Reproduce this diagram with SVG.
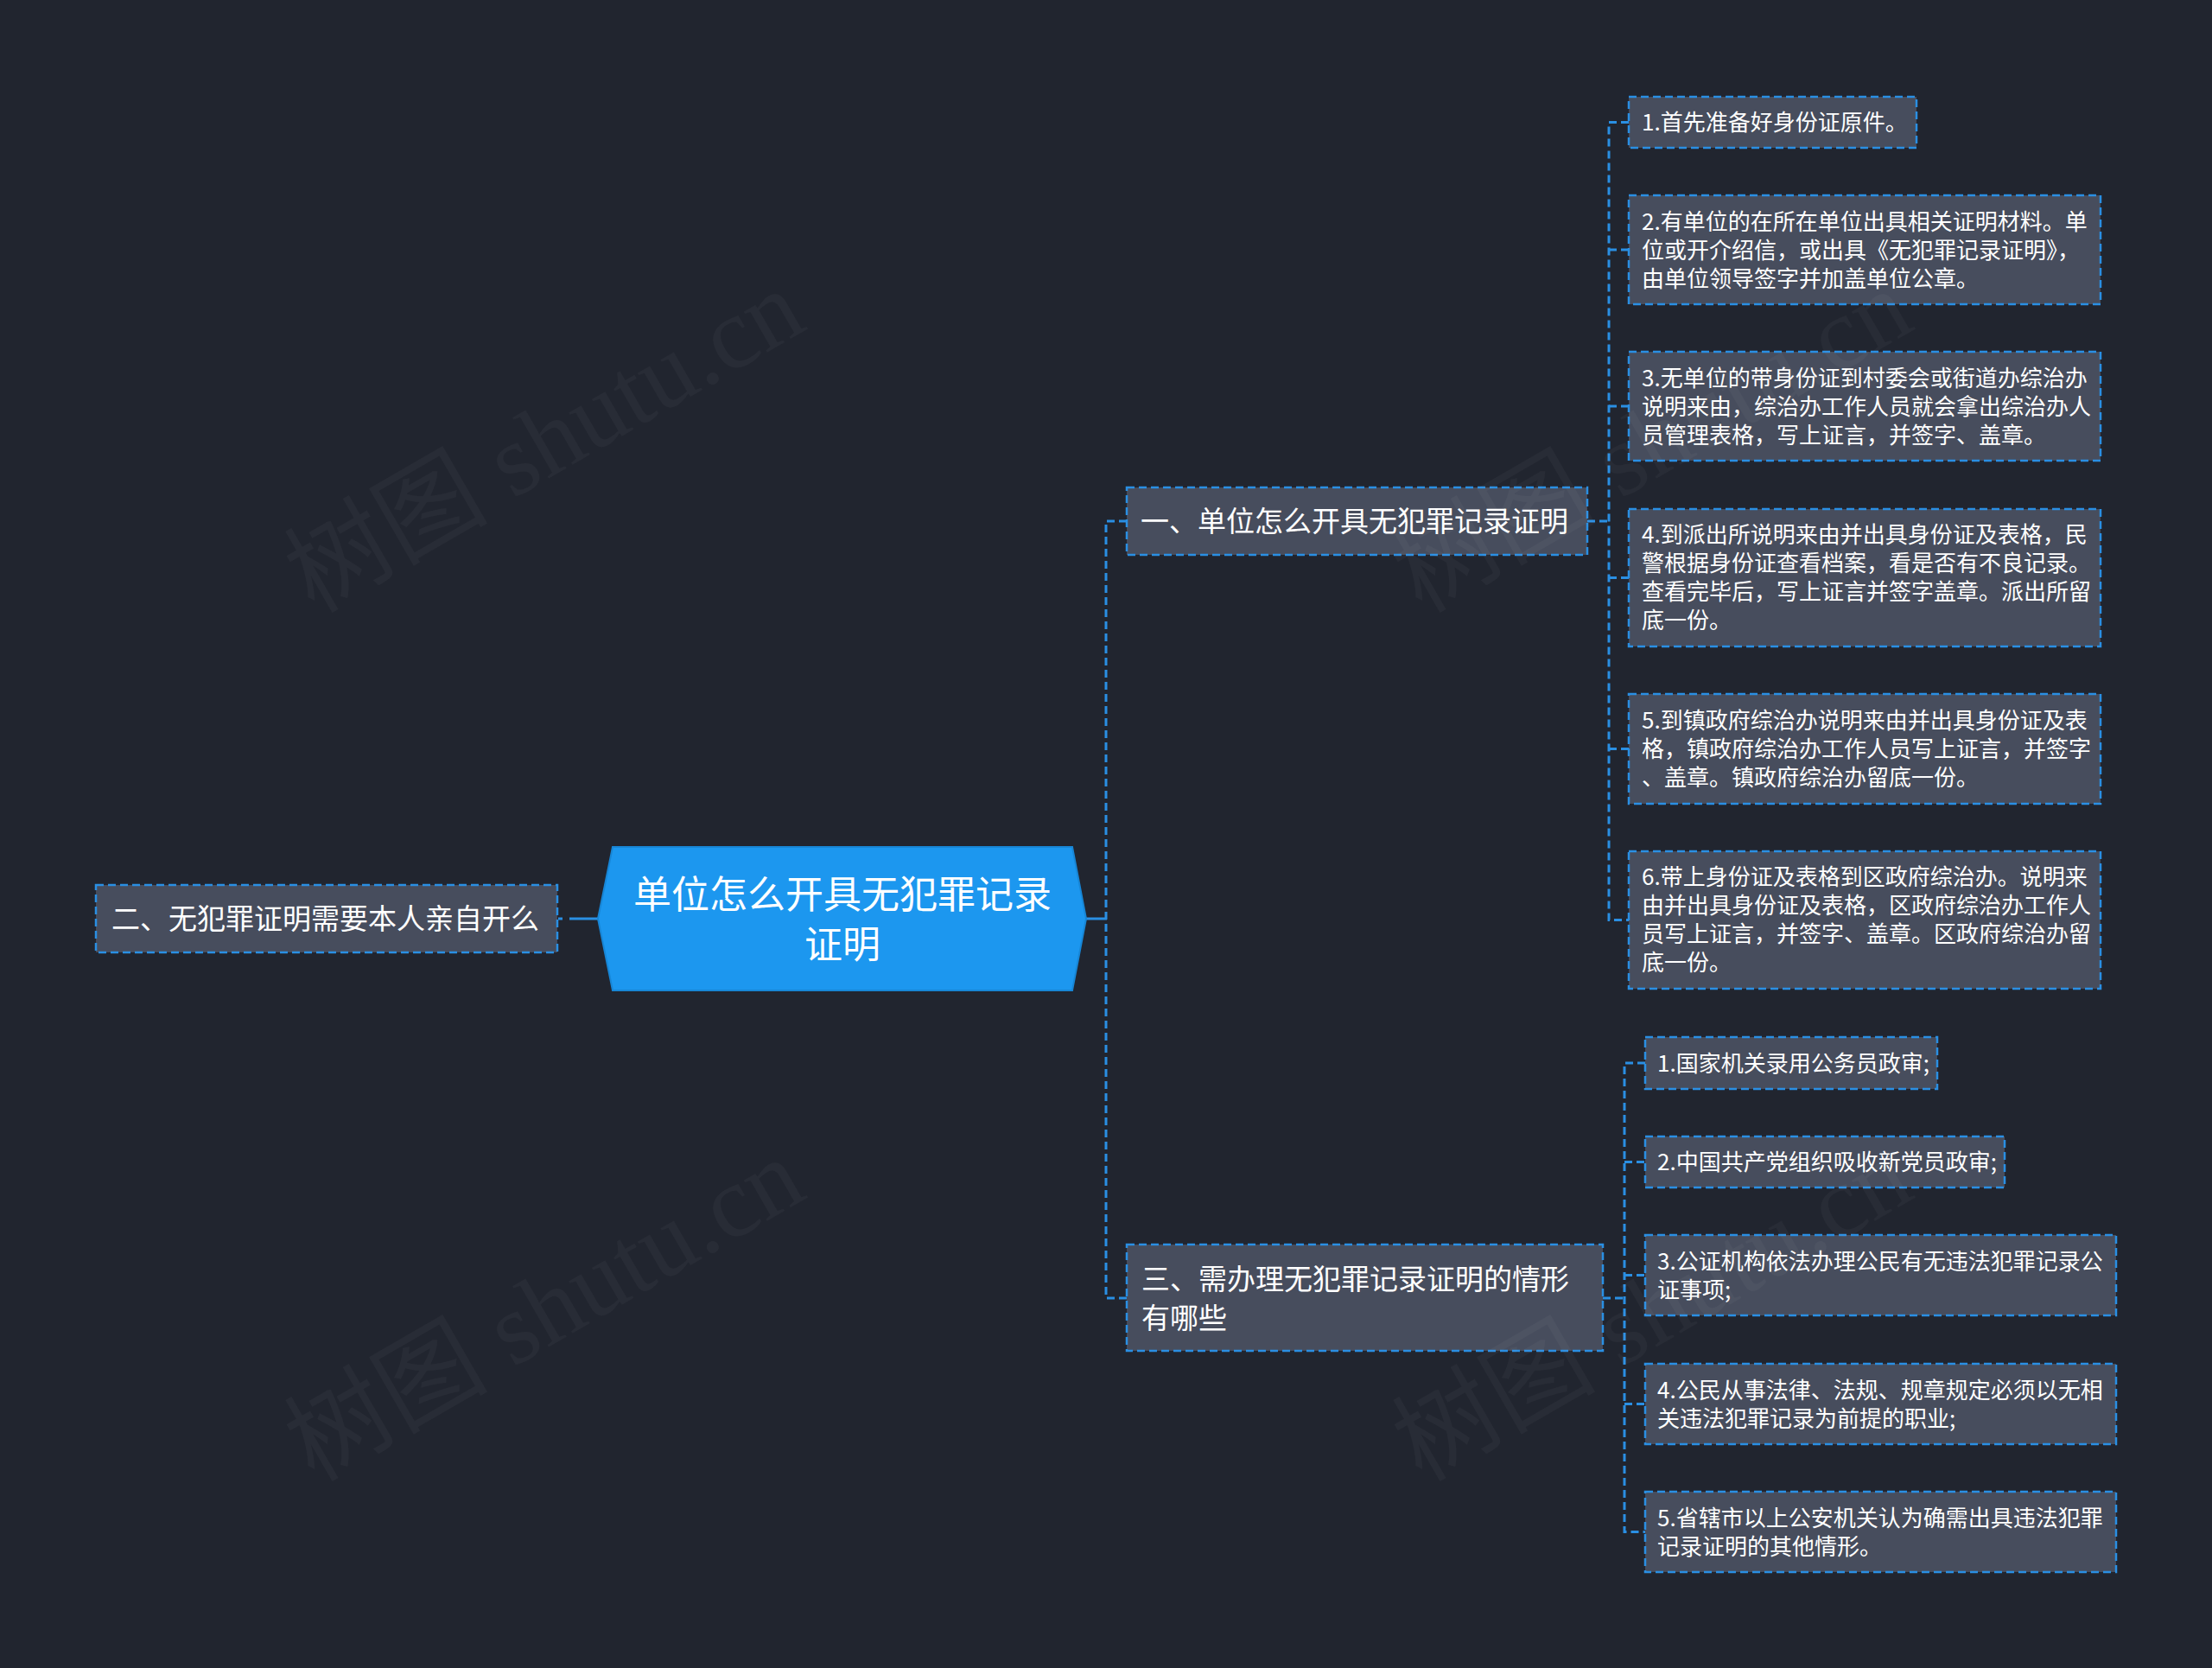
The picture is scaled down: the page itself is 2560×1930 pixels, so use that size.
<svg xmlns="http://www.w3.org/2000/svg" width="2560" height="1930" viewBox="0 0 2560 1930">
<defs>
<style>
.bg{fill:#21252f}
.box{fill:#474d5d;stroke:#2a8fe3;stroke-width:2.5;stroke-dasharray:9 5}
.t{font-family:"Noto Sans CJK SC","Noto Sans",sans-serif;fill:#ffffff}
.s{font-size:26px}
.m{font-size:33px}
.c{font-size:44px}
.ln{fill:none;stroke:#2a8fe3;stroke-width:3;stroke-dasharray:9 5}
.sl{fill:none;stroke:#2a8fe3;stroke-width:3}
.wm{font-family:"Liberation Serif","Noto Sans CJK SC",serif;font-size:118px;fill:#ffffff;fill-opacity:0.035}
</style>
</defs>
<rect class="bg" x="0" y="0" width="2560" height="1930"/>

<g id="connectors">
<line class="sl" x1="1257" y1="1063" x2="1281" y2="1063"/>
<line class="sl" x1="659" y1="1063" x2="692" y2="1063"/>
<line class="sl" x1="646" y1="1063" x2="651" y2="1063"/>
<path class="ln" d="M1304,603 H1280 V1502 H1304"/>
<path class="ln" d="M1837,603 H1862"/>
<path class="ln" d="M1885,141.5 H1862 V1064.5 H1885"/>
<path class="ln" d="M1862,289 H1885 M1862,470 H1885 M1862,668.5 H1885 M1862,866.5 H1885"/>
<path class="ln" d="M1855,1502 H1880"/>
<path class="ln" d="M1904,1230 H1880 V1772.5 H1904"/>
<path class="ln" d="M1880,1344.5 H1904 M1880,1475.5 H1904 M1880,1624.5 H1904"/>
</g>

<g id="center">
<polygon points="692,1063 709,980 1241,980 1257,1063 1241,1146 709,1146" fill="#1c97ef" stroke="#1786d6" stroke-width="2"/>
<text class="t c" x="975" y="1051" text-anchor="middle">单位怎么开具无犯罪记录</text>
<text class="t c" x="975" y="1109" text-anchor="middle">证明</text>
</g>

<g id="node-2">
<rect class="box" x="111" y="1024" width="534" height="78"/>
<text class="t m" x="129" y="1075">二、无犯罪证明需要本人亲自开么</text>
</g>

<g id="node-1">
<rect class="box" x="1304" y="564" width="533" height="78"/>
<text class="t m" x="1320" y="615">一、单位怎么开具无犯罪记录证明</text>
</g>

<g id="node-3">
<rect class="box" x="1304" y="1440" width="551" height="123"/>
<text class="t m" x="1321" y="1492">三、需办理无犯罪记录证明的情形</text>
<text class="t m" x="1321" y="1537">有哪些</text>
</g>

<g id="n1-1">
<rect class="box" x="1885" y="112" width="333" height="59"/>
<text class="t s" x="1900" y="151">1.首先准备好身份证原件。</text>
</g>
<g id="n1-2">
<rect class="box" x="1885" y="226" width="546" height="126"/>
<text class="t s" x="1900" y="266">2.有单位的在所在单位出具相关证明材料。单</text>
<text class="t s" x="1900" y="299">位或开介绍信，或出具《无犯罪记录证明》，</text>
<text class="t s" x="1900" y="332">由单位领导签字并加盖单位公章。</text>
</g>
<g id="n1-3">
<rect class="box" x="1885" y="407" width="546" height="126"/>
<text class="t s" x="1900" y="447">3.无单位的带身份证到村委会或街道办综治办</text>
<text class="t s" x="1900" y="480">说明来由，综治办工作人员就会拿出综治办人</text>
<text class="t s" x="1900" y="513">员管理表格，写上证言，并签字、盖章。</text>
</g>
<g id="n1-4">
<rect class="box" x="1885" y="589" width="546" height="159"/>
<text class="t s" x="1900" y="628">4.到派出所说明来由并出具身份证及表格，民</text>
<text class="t s" x="1900" y="661">警根据身份证查看档案，看是否有不良记录。</text>
<text class="t s" x="1900" y="694">查看完毕后，写上证言并签字盖章。派出所留</text>
<text class="t s" x="1900" y="727">底一份。</text>
</g>
<g id="n1-5">
<rect class="box" x="1885" y="803" width="546" height="127"/>
<text class="t s" x="1900" y="843">5.到镇政府综治办说明来由并出具身份证及表</text>
<text class="t s" x="1900" y="876">格，镇政府综治办工作人员写上证言，并签字</text>
<text class="t s" x="1900" y="909">、盖章。镇政府综治办留底一份。</text>
</g>
<g id="n1-6">
<rect class="box" x="1885" y="985" width="546" height="159"/>
<text class="t s" x="1900" y="1024">6.带上身份证及表格到区政府综治办。说明来</text>
<text class="t s" x="1900" y="1057">由并出具身份证及表格，区政府综治办工作人</text>
<text class="t s" x="1900" y="1090">员写上证言，并签字、盖章。区政府综治办留</text>
<text class="t s" x="1900" y="1123">底一份。</text>
</g>

<g id="n3-1">
<rect class="box" x="1904" y="1200" width="338" height="60"/>
<text class="t s" x="1918" y="1240">1.国家机关录用公务员政审;</text>
</g>
<g id="n3-2">
<rect class="box" x="1904" y="1315" width="416" height="59"/>
<text class="t s" x="1918" y="1354">2.中国共产党组织吸收新党员政审;</text>
</g>
<g id="n3-3">
<rect class="box" x="1904" y="1429" width="545" height="93"/>
<text class="t s" x="1918" y="1469">3.公证机构依法办理公民有无违法犯罪记录公</text>
<text class="t s" x="1918" y="1502">证事项;</text>
</g>
<g id="n3-4">
<rect class="box" x="1904" y="1578" width="545" height="93"/>
<text class="t s" x="1918" y="1618">4.公民从事法律、法规、规章规定必须以无相</text>
<text class="t s" x="1918" y="1651">关违法犯罪记录为前提的职业;</text>
</g>
<g id="n3-5">
<rect class="box" x="1904" y="1726" width="545" height="93"/>
<text class="t s" x="1918" y="1766">5.省辖市以上公安机关认为确需出具违法犯罪</text>
<text class="t s" x="1918" y="1799">记录证明的其他情形。</text>
</g>

<g id="watermarks">
<text class="wm" text-anchor="middle" transform="translate(650,545) rotate(-30)">树图 shutu.cn</text>
<text class="wm" text-anchor="middle" transform="translate(650,1550) rotate(-30)">树图 shutu.cn</text>
<text class="wm" text-anchor="middle" transform="translate(1932,545) rotate(-30)">树图 shutu.cn</text>
<text class="wm" text-anchor="middle" transform="translate(1932,1550) rotate(-30)">树图 shutu.cn</text>
</g>
</svg>
